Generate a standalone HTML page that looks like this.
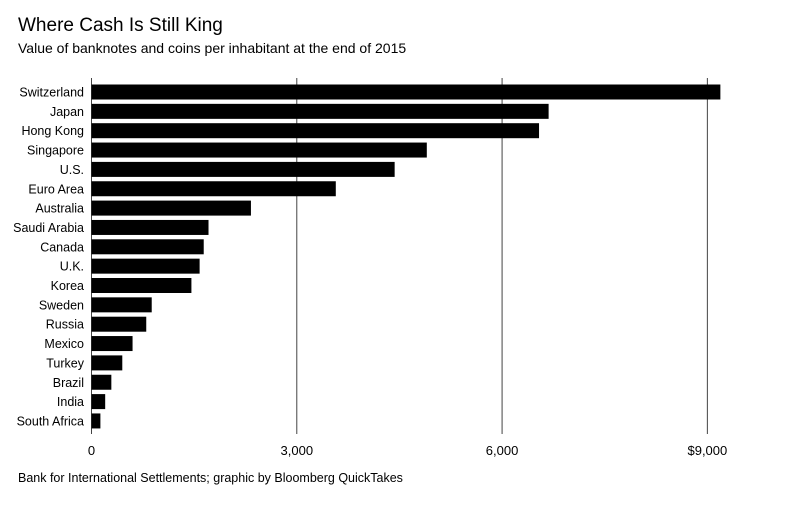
<!DOCTYPE html>
<html><head><meta charset="utf-8"><style>
body{margin:0;background:#fff;font-family:"Liberation Sans",sans-serif;}
</style></head><body>
<svg width="800" height="510" xmlns="http://www.w3.org/2000/svg">
<text x="18" y="31" font-size="19" fill="#000">Where Cash Is Still King</text>
<text x="18" y="53" font-size="14" fill="#000">Value of banknotes and coins per inhabitant at the end of 2015</text>
<g id="grid"></g><g id="bars"></g><g id="labels"></g><g id="ticks"></g>
<text x="18" y="482" font-size="12.5" fill="#000">Bank for International Settlements; graphic by Bloomberg QuickTakes</text>
</svg>
<script>
const categories=["Switzerland","Japan","Hong Kong","Singapore","U.S.","Euro Area","Australia","Saudi Arabia","Canada","U.K.","Korea","Sweden","Russia","Mexico","Turkey","Brazil","India","South Africa"];
const values=[9190,6680,6540,4900,4430,3570,2330,1710,1640,1580,1460,880,800,600,450,290,200,130];
const tickValues=[0,3000,6000,9000];
const tickLabels=["0","3,000","6,000","$9,000"];
const NS="http://www.w3.org/2000/svg";
const x=v=>91.5+v*0.06843;
const yc=i=>92+i*19.35;
function mk(t,a,p){const e=document.createElementNS(NS,t);for(const k in a)e.setAttribute(k,a[k]);document.getElementById(p).appendChild(e);return e;}
tickValues.forEach((v,i)=>{
 const l=mk('line',{x1:x(v),x2:x(v),y1:78,y2:434,stroke:'#444','stroke-width':1},'grid');
 
 
 const t=mk('text',{x:x(v),y:455,'font-size':13,'text-anchor':'middle',fill:'#000'},'ticks');
 t.textContent=tickLabels[i];
 
 
});
categories.forEach((c,i)=>{
 const r=mk('rect',{x:x(0),y:yc(i)-7.5,width:x(values[i])-x(0),height:15,fill:'#000'},'bars');
 
 
 const t=mk('text',{x:84,y:yc(i)+4.5,'font-size':12.5,'text-anchor':'end',fill:'#000'},'labels');
 t.textContent=c;
 
 
});
</script>
</body></html>
